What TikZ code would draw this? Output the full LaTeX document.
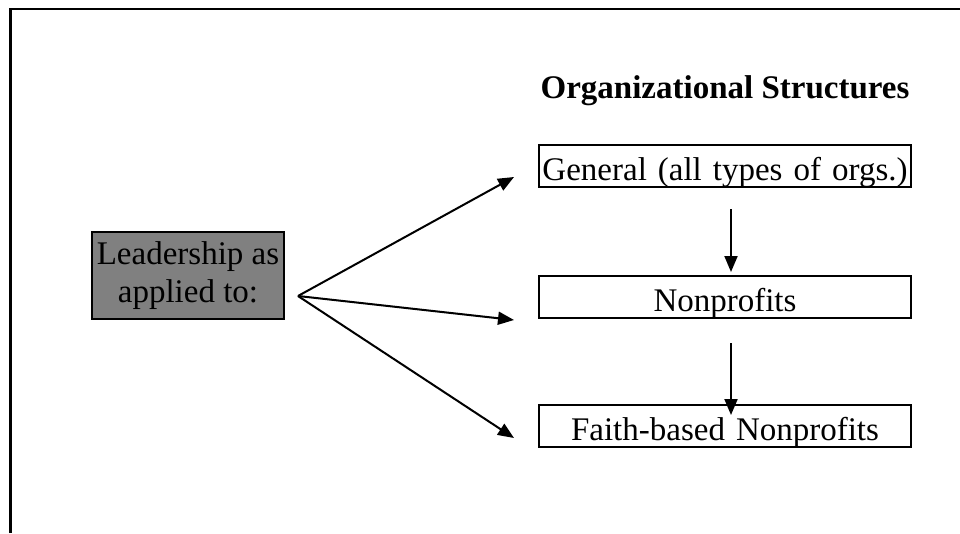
\documentclass[tikz,border=0pt]{standalone}
\usepackage{fontspec}
\setmainfont{Liberation Serif}
\usetikzlibrary{arrows.meta}
\definecolor{leadgray}{HTML}{808080}
\begin{document}
\begin{tikzpicture}[x=1pt,y=-1pt,
  every node/.style={font=\fontsize{33}{38}\selectfont},
  orgbox/.style={draw,line width=2.5pt,inner sep=0pt,text width=372pt,align=center,text height=35pt,text depth=7pt,anchor=base},
  leadbox/.style={draw,line width=2.5pt,fill=leadgray,inner sep=0pt,minimum width=192pt,minimum height=87pt,align=center},
  arr/.style={line width=2pt,-{Triangle[length=16pt,width=13pt]}}]
\useasboundingbox (0,0) rectangle (960,533);
\draw[line width=2.5pt] (10.5,533) -- (10.5,9) -- (960,9);
\node[font=\fontsize{33}{38}\selectfont\bfseries,anchor=base] (title) at (725,98) {Organizational Structures};
\node[leadbox] (lead) at (188,275.5) {\raisebox{-2pt}{Leadership as}\\\raisebox{-2pt}{applied to:}};
\node[orgbox] (gen) at (725,180) {General (all types of orgs.)};
\node[orgbox] (np) at (725,311) {Nonprofits};
\node[orgbox] (fb) at (725,440) {Faith-based Nonprofits};
\coordinate (fan) at (298,296);
\coordinate (t1) at (514,177);
\coordinate (t2) at (514,320);
\coordinate (t3) at (514,438);
\coordinate (v1s) at (731,209);
\coordinate (v1e) at (731,272);
\coordinate (v2s) at (731,343);
\coordinate (v2e) at (731,415);
\draw[arr] (fan) -- (t1);
\draw[arr] (fan) -- (t2);
\draw[arr] (fan) -- (t3);
\draw[arr] (v1s) -- (v1e);
\draw[arr] (v2s) -- (v2e);
\end{tikzpicture}
\end{document}
